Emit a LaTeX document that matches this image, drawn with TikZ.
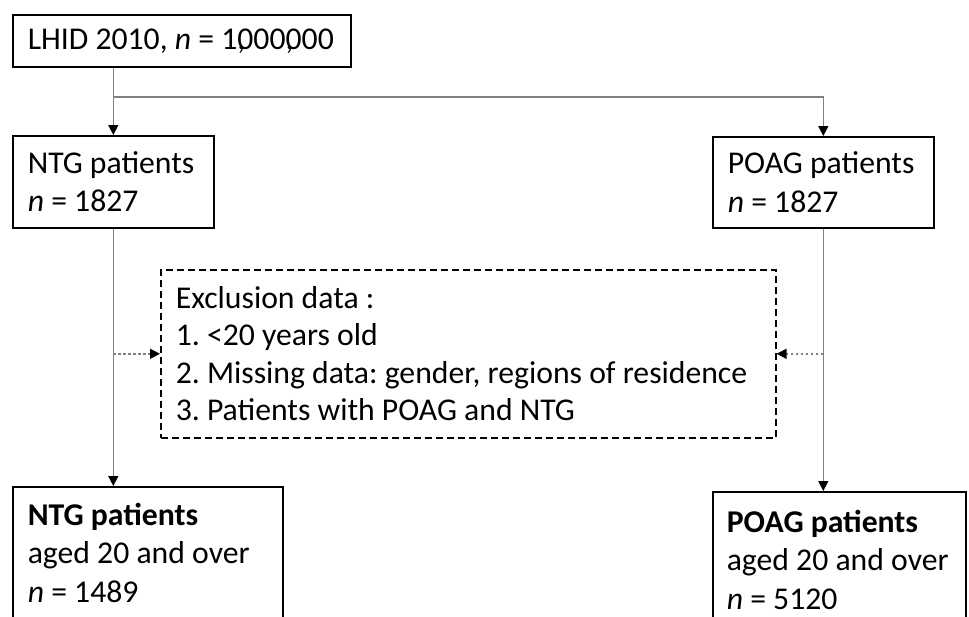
\documentclass[tikz,border=0pt]{standalone}
\usepackage{fontspec}
\setmainfont{Carlito}
\usetikzlibrary{arrows.meta,calc}
\frenchspacing
\begin{document}
\begin{tikzpicture}[x=1pt,y=-1pt,
  every node/.style={font=\fontsize{31.7}{38.7}\selectfont},
  box/.style={draw=black, line width=1.6pt, anchor=north west, align=flush left, inner xsep=15pt, inner ysep=0pt},
  conn/.style={draw=black!50, line width=1.4pt, -{Triangle[length=10pt,width=10pt,color=black]}},
  dconn/.style={draw=black!50, line width=1.4pt, dash pattern=on 2.5pt off 2.5pt, -{Triangle[length=10pt,width=10pt,color=black]}}
]
\useasboundingbox (0,0) rectangle (969,616);
\fill[white] (0,0) rectangle (969,616);

\node[box, text width=308pt, minimum height=52pt] (top) at (12,14) {\mbox{LHID 2010, \textit{n} = 1\rlap{,}000\rlap{,}000}};
\node[box, text width=171pt, minimum height=92pt] (ntg) at (12,135) {\mbox{NTG patients}\\\mbox{\textit{n} = 1827}};
\node[box, text width=191pt, minimum height=91pt] (poag) at (712,136) {\mbox{POAG patients}\\\mbox{\textit{n} = 1827}};
\node[box, dashed, dash pattern=on 7pt off 4pt, text width=585pt, minimum height=168pt, font=\fontsize{31.7}{37.5}\selectfont] (excl) at (160,269)
  {\mbox{Exclusion data :}\\\mbox{1. <20 years old}\\\mbox{2. Missing data: gender, regions of residence}\\\mbox{3. Patients with POAG and NTG}};
\node[box, inner ysep=16pt] (ntg2) at (12,486)
  {\parbox[t][160pt][t]{240pt}{\raggedright\textbf{NTG patients}\\aged 20 and over\\\textit{n} = 1489}};
\node[box, inner ysep=18pt, inner xsep=14pt] (poag2) at (712,491)
  {\parbox[t][160pt][t]{225pt}{\raggedright\textbf{POAG patients}\\aged 20 and over\\\textit{n} = 5120}};

\coordinate (j) at (112.5,97);
\draw[conn] (top.south -| ntg.north) -- (ntg.north);
\draw[conn] (j) -| (poag.north);
\draw[conn] (ntg.south) -- (ntg.south |- ntg2.north);
\draw[conn] (poag.south) -- (poag.south |- poag2.north);
\draw[dconn] (excl.west -| ntg.south) -- (excl.west);
\draw[dconn] (excl.east -| poag.south) -- (excl.east);
\end{tikzpicture}
\end{document}
